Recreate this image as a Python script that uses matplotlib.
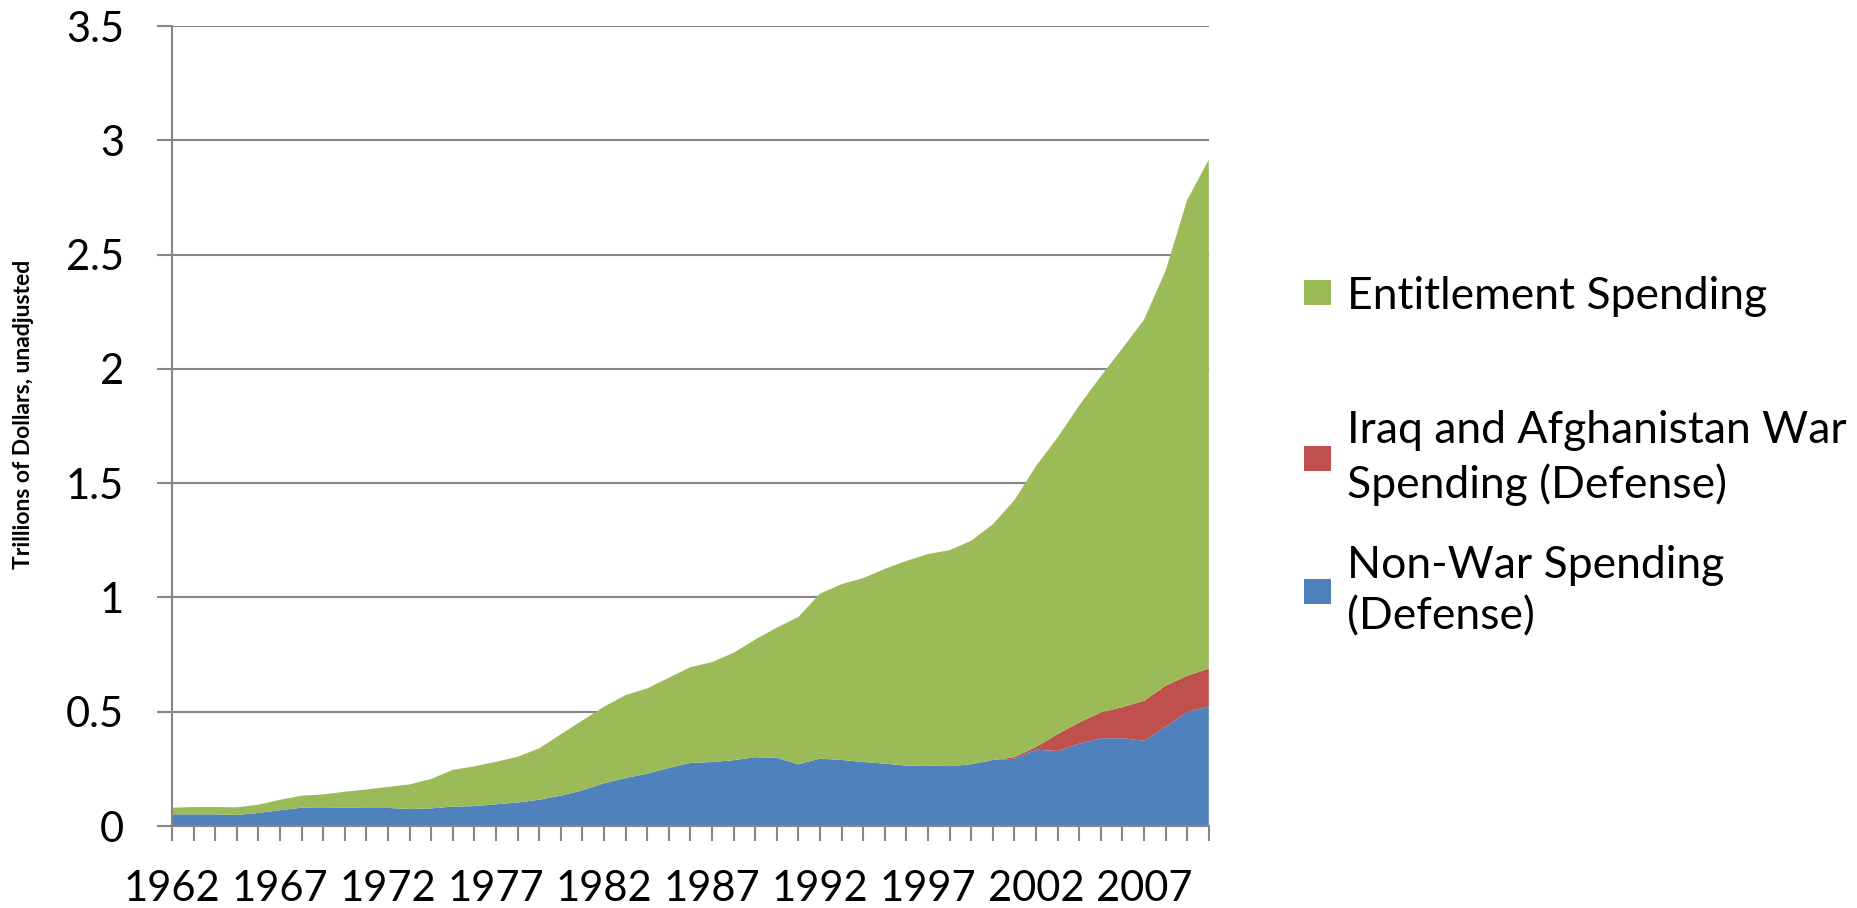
import numpy as np
import matplotlib
matplotlib.use("Agg")
import matplotlib.pyplot as plt

plt.rcParams['font.family'] = ['Lato', 'DejaVu Sans']

# Data (trillions of dollars, unadjusted)
years = list(range(1962, 2011))
non_war = [0.051, 0.051, 0.051, 0.048, 0.057, 0.069, 0.080, 0.082, 0.080, 0.079,
           0.079, 0.074, 0.077, 0.085, 0.087, 0.095, 0.103, 0.115, 0.133, 0.156,
           0.187, 0.210, 0.229, 0.254, 0.276, 0.280, 0.288, 0.301, 0.298, 0.270,
           0.295, 0.289, 0.280, 0.273, 0.264, 0.265, 0.262, 0.270, 0.289, 0.294,
           0.334, 0.328, 0.360, 0.384, 0.384, 0.373, 0.434, 0.500, 0.523]
war = [0.0] * 39 + [0.007, 0.012, 0.074, 0.093, 0.113, 0.136, 0.175, 0.180, 0.157, 0.166]
entitlement = [0.029, 0.032, 0.032, 0.034, 0.036, 0.046, 0.053, 0.056, 0.070, 0.081,
               0.092, 0.108, 0.129, 0.161, 0.174, 0.186, 0.200, 0.225, 0.268, 0.306,
               0.335, 0.363, 0.373, 0.395, 0.419, 0.437, 0.470, 0.515, 0.570, 0.645,
               0.722, 0.769, 0.805, 0.852, 0.896, 0.925, 0.945, 0.978, 1.031, 1.125,
               1.229, 1.298, 1.387, 1.471, 1.570, 1.667, 1.816, 2.083, 2.226]

labels = ['Non-War Spending\n(Defense)',
          'Iraq and Afghanistan War\nSpending (Defense)',
          'Entitlement Spending']
colors = ['#4F81BD', '#C0504D', '#9BBB59']
grid_gray = '#868686'

fig = plt.figure(figsize=(18.58, 9.08), dpi=100)
ax = fig.add_axes([0.0926, 0.0903, 0.558, 0.881])

polys = ax.stackplot(years, non_war, war, entitlement, colors=colors,
                     linewidth=0, zorder=2)

ax.set_xlim(1962, 2010)
ax.set_ylim(0, 3.5)
ax.set_yticks(np.arange(0, 3.51, 0.5))
ax.set_yticklabels(['0', '0.5', '1', '1.5', '2', '2.5', '3', '3.5'])
ax.set_xticks(range(1962, 2011, 5))
ax.set_xticks(years, minor=True)

ax.grid(axis='y', color=grid_gray, linewidth=1.5, zorder=1)
ax.set_axisbelow(True)
for side in ['top', 'right']:
    ax.spines[side].set_visible(False)
for side in ['left', 'bottom']:
    ax.spines[side].set_color(grid_gray)
    ax.spines[side].set_linewidth(1.5)
    ax.spines[side].set_zorder(3)

ax.tick_params(axis='y', which='major', length=10.5, width=1.5, color=grid_gray,
               pad=24, labelsize=30)
ax.tick_params(axis='x', which='both', length=11, width=1.5, color=grid_gray,
               pad=21, labelsize=30)

ax.set_ylabel('Trillions of Dollars, unadjusted', fontsize=16.5, fontweight='bold')
ax.yaxis.set_label_coords(-0.133, 0.514)

# legend entries, top to bottom: entitlement, war, non-war
legend_y = [0.674, 0.4956, 0.349]
for poly, lab, y in zip(polys[::-1], labels[::-1], legend_y):
    leg = fig.legend([poly], [lab], loc='center left', bbox_to_anchor=(0.7018, y),
                     frameon=False, fontsize=32, handlelength=0.61, handleheight=0.5,
                     handletextpad=0.35, borderpad=0, borderaxespad=0)
    for t in leg.get_texts():
        t.set_linespacing(1.33)

fig.savefig('out.png', dpi=100)
